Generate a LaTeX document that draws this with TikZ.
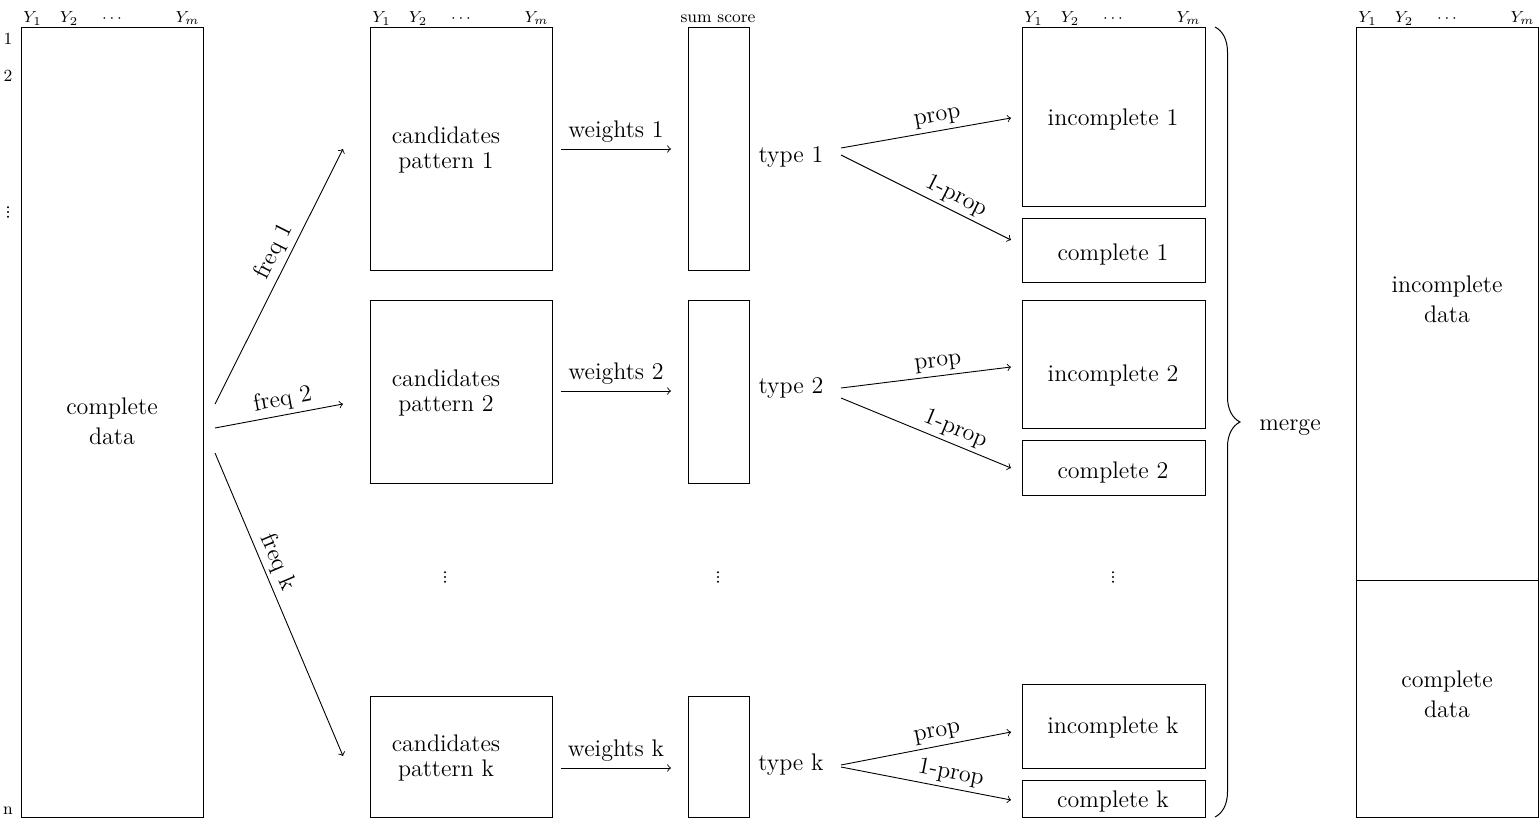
\documentclass[tikz,border=0pt]{standalone}
\usetikzlibrary{fit,decorations.pathreplacing}
\begin{document}
\begin{tikzpicture}[x=0.5pt,y=-0.5pt,
  box/.style={draw, line width=0.5pt, inner sep=0pt},
  big/.style={font=\fontsize{12}{15}\selectfont, align=center, inner sep=1pt},
  cand/.style={font=\fontsize{12}{12.5}\selectfont, align=center, inner sep=1pt},
  small/.style={font=\fontsize{8.5}{10}\selectfont, inner sep=0pt, anchor=base},
  arr/.style={->, line width=0.45pt},
  lab/.style={font=\fontsize{12}{15}\selectfont, sloped, above, inner sep=2pt},
  wlab/.style={font=\fontsize{12}{15}\selectfont, above, inner sep=3pt},
  dotc/.style={fill, circle, inner sep=0pt, minimum size=1.1pt}]
\useasboundingbox (0,0) rectangle (1539,819);

% column labels
\foreach \bx/\nm in {21/cd, 370/ca, 1022/ic, 1356/rt}{
  \node[small] (\nm-y1) at (\bx+11.5,23) {$Y_1$};
  \node[small] (\nm-y2) at (\bx+48,23) {$Y_2$};
  \node[small] (\nm-yd) at (\bx+91,23) {$\cdots$};
  \node[small] (\nm-ym) at (\bx+166.5,23) {$Y_m$};
}
\node[small] (ss) at (718,22) {sum score};

% row labels
\node[small] (r1) at (8,45) {1};
\node[small] (r2) at (8,81) {2};
\node[small] (rn) at (8,814) {n};

% vertical dots (drawn as small dots)
\foreach \vx/\vy/\nm in {8/212/rd, 445/577/vd1, 718/577/vd2, 1113/577/vd3}{
  \node[dotc] (\nm-a) at (\vx,\vy-4.7) {};
  \node[dotc] (\nm-b) at (\vx,\vy) {};
  \node[dotc] (\nm-c) at (\vx,\vy+4.7) {};
}

% complete data box
\node[box, fit={(21,27)(203,817)}] (cdbox) {};
\node[big] (cdt) at (112,421) {complete\\data};

% candidate boxes
\node[box, fit={(370,27)(552,270)}] (ca1) {};
\node[box, fit={(370,300)(552,483)}] (ca2) {};
\node[box, fit={(370,696)(552,817)}] (cak) {};
\node[cand] (ca1t) at (446,150) {candidates\\pattern 1};
\node[cand] (ca2t) at (446,393) {candidates\\pattern 2};
\node[cand] (cakt) at (446,758) {candidates\\pattern k};

% sum score boxes
\node[box, fit={(688,27)(749,270)}] (s1) {};
\node[box, fit={(688,300)(749,483)}] (s2) {};
\node[box, fit={(688,696)(749,817)}] (sk) {};

% incomplete / complete boxes
\node[box, fit={(1022,27)(1205,206)}] (in1) {};
\node[box, fit={(1022,218)(1205,282)}] (co1) {};
\node[box, fit={(1022,300)(1205,428)}] (in2) {};
\node[box, fit={(1022,440)(1205,495)}] (co2) {};
\node[box, fit={(1022,684)(1205,768)}] (ink) {};
\node[box, fit={(1022,780)(1205,817)}] (cok) {};
\node[big] (in1t) at (1113,120) {incomplete 1};
\node[big] (co1t) at (1113,254) {complete 1};
\node[big] (in2t) at (1113,375) {incomplete 2};
\node[big] (co2t) at (1113,472) {complete 2};
\node[big] (inkt) at (1113,727) {incomplete k};
\node[big] (cokt) at (1113,801) {complete k};

% right box
\node[box, fit={(1356,27)(1538,817)}] (rtbox) {};
\draw[line width=0.5pt] (1356,580) -- (1538,580);
\node[big] (rtin) at (1447,299) {incomplete\\data};
\node[big] (rtco) at (1447,694) {complete\\data};

% brace and merge
\draw[line width=0.5pt, decorate, decoration={brace, amplitude=12.5pt}] (1215,27) -- (1215,817);
\node[big] (merge) at (1290,428) {merge};

% freq arrows
\coordinate (f1s) at (215,404); \coordinate (f1e) at (343,149);
\coordinate (f2s) at (215,428); \coordinate (f2e) at (343,404);
\coordinate (fks) at (215,453); \coordinate (fke) at (343,756);
\draw[arr] (f1s) -- node[lab, pos=0.57] {freq 1} (f1e);
\draw[arr] (f2s) -- node[lab, pos=0.55] {freq 2} (f2e);
\draw[arr] (fks) -- node[lab, pos=0.38] {freq k} (fke);

% weights arrows
\coordinate (w1s) at (561,149); \coordinate (w1e) at (671,149);
\coordinate (w2s) at (561,391); \coordinate (w2e) at (671,391);
\coordinate (wks) at (561,768); \coordinate (wke) at (671,768);
\draw[arr] (w1s) -- node[wlab] {weights 1} (w1e);
\draw[arr] (w2s) -- node[wlab] {weights 2} (w2e);
\draw[arr] (wks) -- node[wlab] {weights k} (wke);

% type labels
\node[big] (t1) at (791,157) {type 1};
\node[big] (t2) at (791,388) {type 2};
\node[big] (tk) at (791,765) {type k};

% prop arrows
\coordinate (p1s) at (841,148); \coordinate (p1e) at (1011,118);
\coordinate (q1s) at (841,155); \coordinate (q1e) at (1011,240);
\coordinate (p2s) at (841,388); \coordinate (p2e) at (1011,367);
\coordinate (q2s) at (841,398); \coordinate (q2e) at (1011,468);
\coordinate (pks) at (841,765); \coordinate (pke) at (1011,732);
\coordinate (qks) at (841,767); \coordinate (qke) at (1011,800);
\draw[arr] (p1s) -- node[lab, pos=0.58] {prop} (p1e);
\draw[arr] (q1s) -- node[lab, pos=0.64] {1-prop} (q1e);
\draw[arr] (p2s) -- node[lab, pos=0.58] {prop} (p2e);
\draw[arr] (q2s) -- node[lab, pos=0.64] {1-prop} (q2e);
\draw[arr] (pks) -- node[lab, pos=0.58] {prop} (pke);
\draw[arr] (qks) -- node[lab, pos=0.63] {1-prop} (qke);
\end{tikzpicture}
\end{document}
